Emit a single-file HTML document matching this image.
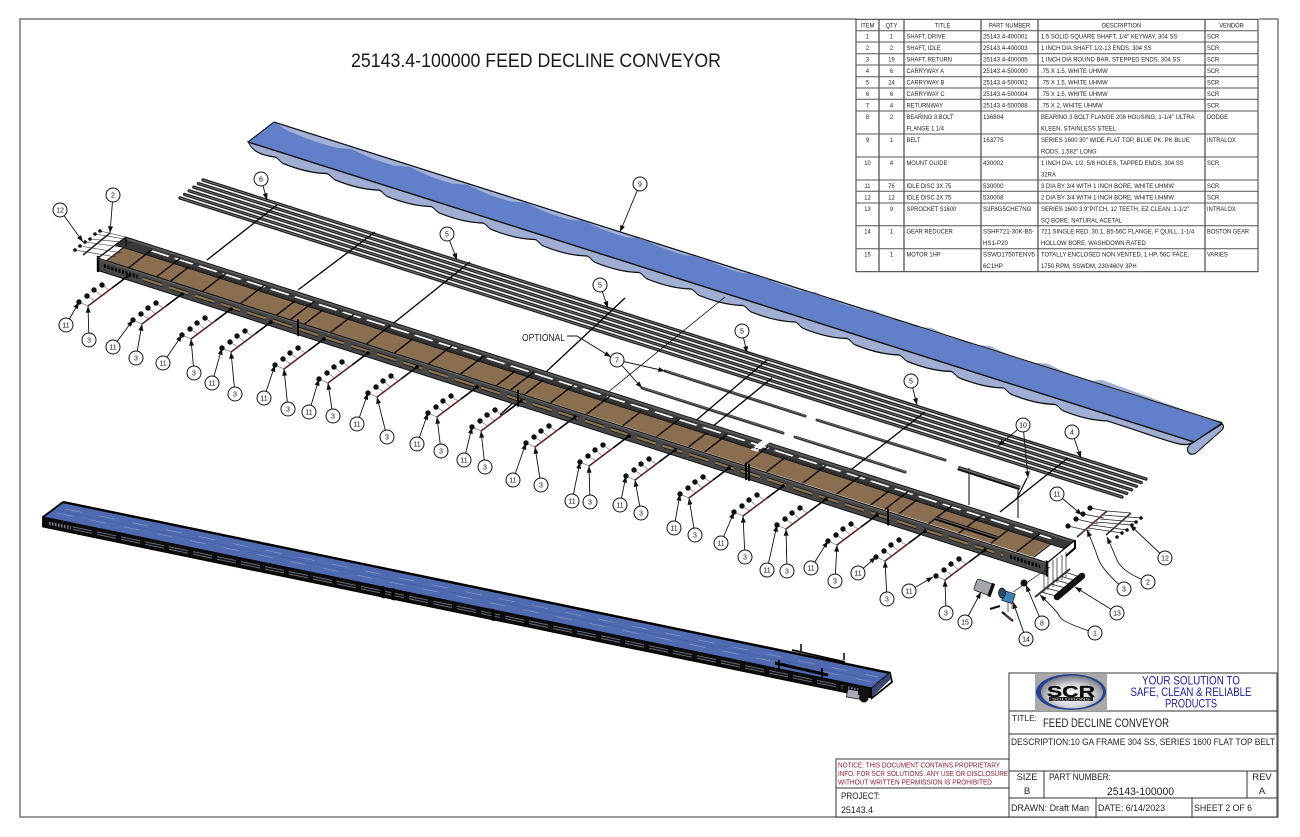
<!DOCTYPE html>
<html><head><meta charset="utf-8"><title>25143.4-100000 FEED DECLINE CONVEYOR</title>
<style>
html,body{margin:0;padding:0;background:#fff}
svg{display:block}
text{font-family:"Liberation Sans",sans-serif;fill:#222}
.t text{font-size:6.4px;fill:#1c1c1c}
.m text{text-anchor:middle}
.b text{font-size:7px;text-anchor:middle;fill:#111}
.b circle{fill:#fff;stroke:#111;stroke-width:1}
.l path{fill:none;stroke:#111;stroke-width:.9;marker-end:url(#a)}
.tb text{font-size:9.5px;fill:#222}
</style></head><body>
<svg width="1300" height="837" viewBox="0 0 1300 837" xmlns="http://www.w3.org/2000/svg">
<defs>
<marker id="a" viewBox="0 0 8 6" refX="8" refY="3" markerWidth="8" markerHeight="5" orient="auto" markerUnits="userSpaceOnUse"><path d="M0 0L8 3L0 6z" fill="#111"/></marker>
<radialGradient id="sil" cx=".5" cy=".6" r=".6"><stop offset="0" stop-color="#fff"/><stop offset=".55" stop-color="#d8d8dc"/><stop offset="1" stop-color="#70747c"/></radialGradient>
<g id="s">
<path d="M-9-4L0 0M-1-10L7-5M6-16L14-10M14-21L21-16" stroke="#333" stroke-width=".5"/>
<path d="M0 0L24-18" stroke="#5b2020" stroke-width="1.5"/>
<path d="M24-18L40-30" stroke="#000" stroke-width="1.6"/>
<circle cx="-9" cy="-4" r="2.7" fill="#111"/><circle cx="-1" cy="-10" r="2.7" fill="#111"/><circle cx="6" cy="-16" r="2.7" fill="#111"/><circle cx="14" cy="-21" r="2.7" fill="#111"/>
<circle cx="40" cy="-30" r="1.8" fill="#000"/>
</g>
</defs>

<rect x="20" y="19" width="1258" height="798" fill="none" stroke="#808080" stroke-width="1.6"/>
<rect x="856" y="10" width="403" height="14" fill="#fff"/>

<text x="351" y="67" font-size="19.5" textLength="370" lengthAdjust="spacingAndGlyphs" style="fill:#1a1a1a">25143.4-100000 FEED DECLINE CONVEYOR</text>

<!-- BELT -->
<path d="M1192 443Q1186 447 1188 452Q1191 456 1196 453L1222 430Q1225 426 1222 424Z" fill="#a0aed3" stroke="#111" stroke-width="1.1" stroke-linejoin="round"/>
<path d="M248 142L274 122L1222 423L1194 442Z" fill="#6180c9" stroke="#111" stroke-width="1.1" stroke-linejoin="round"/>
<g transform="matrix(1 .3171 0 1 248 142)">
<path transform="scale(1 1.3)" d="M0 0C5 6 12 7 27 5c4 0 5 3 9 3c16 1 30 0 43-3c4 0 5 3 9 3c16 1 30 0 43-3c4 0 5 3 9 3c16 1 30 0 43-3c4 0 5 3 9 3c16 1 30 0 43-3c4 0 5 3 9 3c16 1 30 0 43-3c4 0 5 3 9 3c16 1 30 0 43-3c4 0 5 3 9 3c16 1 30 0 43-3c4 0 5 3 9 3c16 1 30 0 43-3c4 0 5 3 9 3c16 1 30 0 43-3c4 0 5 3 9 3c16 1 30 0 43-3c4 0 5 3 9 3c16 1 30 0 43-3c4 0 5 3 9 3c16 1 30 0 43-3c4 0 5 3 9 3c16 1 30 0 43-3c4 0 5 3 9 3c16 1 30 0 43-3c4 0 5 3 9 3c16 1 30 0 43-3c4 0 5 3 9 3c16 1 30 0 43-3C925 5 935 8 946 0Z" fill="#a0aed3" stroke="#111" stroke-width="1"/>
<path d="M30-27.4c6 3 10 4 16 4c14 2 30 2 44 1c6-2 8-2 14-3.500c14 3 30 4 44 3c6-2 8-2 14-3.500c14 3 30 4 44 3c6-2 8-2 14-3.500c14 3 30 4 44 3c6-2 8-2 14-3.500c14 3 30 4 44 3c6-2 8-2 14-3.500c14 3 30 4 44 3c6-2 8-2 14-3.500c14 3 30 4 44 3c6-2 8-2 14-3.500c14 3 30 4 44 3c6-2 8-2 14-3.500c14 3 30 4 44 3c6-2 8-2 14-3.500c14 3 30 4 44 3c6-2 8-2 14-3.500c14 3 30 4 44 3c6-2 8-2 14-3.500c14 3 30 4 44 3c6-2 8-2 14-3.500c14 3 30 4 44 3c6-2 8-2 14-3.500c14 3 30 4 44 3l10 -4 L972 -27.400Z" fill="#a3b1d8"/>
<path d="M0 0H946" stroke="#111" stroke-width="1.2" fill="none"/>
<path d="M26-28.200H974" stroke="#111" stroke-width="1" fill="none"/>
</g>

<!-- RODS -->
<g fill="none" stroke-linecap="round">
<g stroke="#222" stroke-width="3.300">
<path d="M180 198L1122 497M184.600 194.400L1126.800 493.400M189.200 190.800L1131.600 489.800M193.800 187.200L1136.400 486.200M198.400 183.600L1141.200 482.600M203 180L1146 479"/>
</g>
<g stroke="#8a8a8a" stroke-width=".7">
<path d="M180 198L1122 497M184.600 194.400L1126.800 493.400M189.200 190.800L1131.600 489.800M193.800 187.200L1136.400 486.200M198.400 183.600L1141.200 482.600M203 180L1146 479"/>
</g>
</g>

<!-- RETURNWAYS -->
<g fill="none" stroke="#333" stroke-width="3" stroke-linecap="round">
<path d="M665 371L805 416M642 388L783 433M817 420L945 460M795 437L905 472"/>
</g>
<g fill="none" stroke="#999" stroke-width=".5"><path d="M665 370.600L805 415.600M642 387.600L783 432.600M817 419.600L945 459.600M795 436.600L905 471.600"/></g>

<!-- long connector lines behind frame -->
<g fill="none" stroke="#000">
<path d="M207 260L277 205M298 290L375 232M385 330L470 262M500 415L625 298M673 440L767 360M690 445L772 378M825 490L925 412M1000 512L1068 458" stroke-width="1.300"/>
<path d="M607 393L725 297" stroke-width=".8"/>
<path d="M969 468V505M1018 490V518" stroke-width="1"/>
</g>
<path d="M958 468L1020 488" stroke="#111" stroke-width="4.500"/>
<path d="M958 467.400L1020 487.400" stroke="#666" stroke-width="1.800"/>

<!-- FRAME -->
<g transform="matrix(1 .32 -1.3 1 126 237)">
<rect x="8" y="7" width="926" height="14" fill="#8b6e50"/>
<rect x="0" y="0" width="949" height="8" fill="#383838" stroke="#111" stroke-width=".6"/>
<path d="M0 1.200H949" stroke="#5a5a5a" stroke-width="1.300"/>
<path d="M30 4H930" stroke="#fff" stroke-width="1.200" stroke-dasharray="18 6"/>
<rect x="636" y="-3" width="7" height="12" fill="#fff"/>
<path d="M30 7H930" stroke="#222" stroke-width="1.200" stroke-dasharray="1.500 1.500"/>
<path d="M30 3V21M58 3V21M72 7V21M104 3V21M142 3V21M178 7V21M192 3V21M206 7V21M232 3V21M268 3V21M296 7V21M330 3V21M362 3V21M398 7V21M412 3V21M426 7V21M452 3V21M488 3V21M524 7V21M558 3V21M590 7V21M606 3V21M646 3V21M668 7V21M704 3V21M738 3V21M772 7V21M786 3V21M800 7V21M830 3V21M860 3V21M892 7V21M918 3V21" stroke="#000" stroke-width="1.500"/>
<path d="M8 8V21" stroke="#222" stroke-width="1.500"/>
<path d="M935 8V21" stroke="#222" stroke-width="1.500"/>
</g>
<g transform="matrix(1 .321 0 1 98 258)">
<rect x="0" y="0" width="949" height="12.500" fill="#474747" stroke="#0d0d0d" stroke-width="1"/>
<path d="M0 1.300H949" stroke="#666" stroke-width="1"/>
<path d="M45 6.500H905" stroke="#111" stroke-width="4" stroke-dasharray="19 7"/>
<path d="M45 6.500H905" stroke="#8a7350" stroke-width="2.400" stroke-dasharray="19 7"/>
<path d="M6 6H40M912 6H942" stroke="#000" stroke-width="3.600" stroke-dasharray="2 1.600"/>
<path d="M200 -3V14M420 -3V14M648 -3V14M651 -3V14M790 -3V14" stroke="#000" stroke-width="1.800"/>
<path d="M0 -2V14M949 -2V14" stroke="#000" stroke-width="2.400"/>
</g>
<path d="M1075 540V548L1066 556" stroke="#000" stroke-width="2" fill="none"/>
<path d="M126 237V246M98 258L126 237M1047 563L1075 540" stroke="#111" stroke-width="1.400" fill="none"/>
<!-- front overlay guide -->
<path d="M935 518L997 538" stroke="#000" stroke-width="4"/><path d="M935 517.500L997 537.500" stroke="#555" stroke-width="1.600"/>

<!-- SHAFT SETS -->
<use href="#s" x="88" y="306"/><use href="#s" x="142" y="324"/><use href="#s" x="191" y="339"/><use href="#s" x="231" y="352"/><use href="#s" x="284" y="369"/><use href="#s" x="328" y="383"/><use href="#s" x="377" y="397"/><use href="#s" x="437" y="417"/><use href="#s" x="481" y="431"/><use href="#s" x="535" y="447"/><use href="#s" x="589" y="466"/><use href="#s" x="635" y="480"/><use href="#s" x="689" y="498"/><use href="#s" x="743" y="516"/><use href="#s" x="786" y="529"/><use href="#s" x="837" y="545"/><use href="#s" x="885" y="561"/><use href="#s" x="945" y="580"/>

<!-- LEFT IDLE CLUSTER -->
<g fill="#111">
<circle cx="75" cy="250" r="1.800"/><circle cx="80" cy="246" r="1.800"/><circle cx="85" cy="242" r="1.800"/><circle cx="90" cy="239" r="1.800"/><circle cx="95" cy="234" r="1.800"/><circle cx="100" cy="231" r="1.800"/>
</g>
<g stroke="#222" stroke-width=".6" fill="none">
<path d="M75 250L116 257M80 246L122 253M85 242L128 248M90 239L133 243M95 234L125 239M100 231L126 237"/>
</g>
<path d="M83 255L110 233" stroke="#222" stroke-width="1.600"/>

<!-- RIGHT CLUSTER -->
<g stroke="#222" stroke-width=".7" fill="none">
<path d="M1068 526L1090 531M1076 519L1098 524M1083 514L1104 518M1090 508L1106 511"/>
<path d="M1088 528L1122 533M1092 525L1127 530M1096 522L1132 525M1100 519L1136 522M1103 515L1141 518M1107 511L1131 513"/>
<path d="M1044 570V593M1048 563V590M1053 560V587M1057 558V583M1062 555V580M1066 552V577"/>
<path d="M1041 592L1060 597M1046 588L1065 593M1051 584L1069 589M1056 580L1073 585M1060 576L1077 581M1065 572L1080 577"/>
<path d="M1013 592L1050 567"/>
</g>
<path d="M1077 537L1107 511" stroke="#333" stroke-width="1.800"/><path d="M1079 535L1105 513" stroke="#8b3c30" stroke-width=".7"/>
<path d="M1106 535L1131 513" stroke="#333" stroke-width="1.600"/>
<g fill="#111">
<circle cx="1068" cy="526" r="2.600"/><circle cx="1076" cy="519" r="2.600"/><circle cx="1083" cy="514" r="2.600"/><circle cx="1090" cy="508" r="2.600"/>
<circle cx="1141" cy="518" r="1.800"/><circle cx="1136" cy="522" r="1.800"/><circle cx="1132" cy="525" r="1.800"/><circle cx="1127" cy="530" r="1.800"/><circle cx="1122" cy="533" r="1.800"/><circle cx="1117" cy="537" r="1.800"/>
</g>
<path d="M1035 597L1070 569" stroke="#333" stroke-width="2"/>
<path d="M1057 597L1082 576" stroke="#111" stroke-width="6.500" stroke-linecap="round"/>
<circle cx="1024" cy="583" r="3.500" fill="#111"/>
<!-- motor / reducer -->
<g transform="rotate(20 983 587)"><rect x="975" y="581" width="17" height="12" rx="2" fill="#a4a8ac" stroke="#222" stroke-width=".8"/><rect x="990" y="580" width="3.500" height="14" fill="#111"/></g>
<rect x="1003" y="592" width="11" height="10" fill="#3f86b8" stroke="#123" stroke-width=".8" transform="rotate(18 1008 597)"/>
<ellipse cx="1002" cy="593" rx="3.500" ry="5" fill="#2a4a66" stroke="#111" stroke-width=".7"/>
<path d="M990 609L1000 606M1002 612L1013 621" stroke="#111" stroke-width="2.200"/>
<path d="M1005 614L1012 620" stroke="#7a3a28" stroke-width="1.400"/>
<path d="M1008 602V612M1012 601V609" stroke="#222" stroke-width=".7"/>

<!-- ASSEMBLED CONVEYOR -->
<path d="M63 502L890 673L872 688L43 517Z" fill="#4f6ab0"/>
<g stroke="#9aa8d0" stroke-width=".5" stroke-dasharray="16 18" fill="none">
<path d="M75 505L880 671M66 509L878 677M57 513L872 682"/>
</g>
<g stroke="#3f5a9c" stroke-width=".5" fill="none"><path d="M70 504L884 672M60 511L876 680"/></g>
<path d="M63 502L890 673" stroke="#000" stroke-width="2.400"/>
<g transform="matrix(1 .2063 0 1 43 517)">
<rect x="0" y="0" width="829" height="10" fill="#0c0c0c" stroke="#000" stroke-width="1"/>
<path d="M30 5H800" stroke="#6e7480" stroke-width="3.400" stroke-dasharray="19 5"/>
<path d="M30 5H800" stroke="#111" stroke-width="1.600" stroke-dasharray="19 5"/>
<path d="M6 5H28M805 5H825" stroke="#778" stroke-width="3.400" stroke-dasharray="1.500 1.500"/>
<path d="M340 -1V11M350 -1V11M450 -1V11" stroke="#000" stroke-width="3"/>
</g>
<path d="M63 502L43 517V527M890 673L872 688V698L892 682Z" fill="none" stroke="#000" stroke-width="1.800"/>
<path d="M872 688L890 673V680L872 697Z" fill="#38476f"/>
<path d="M792 650L845 662" stroke="#000" stroke-width="1.800"/>
<path d="M801 644V651M844 653V660" stroke="#000" stroke-width="1.500"/>
<path d="M775 663L828 675" stroke="#000" stroke-width="3"/>
<path d="M779 660V670M822 668V677" stroke="#000" stroke-width="1.700"/>
<rect x="847" y="690" width="13" height="8" fill="#aab" stroke="#111" stroke-width=".8" transform="rotate(10 853 694)"/>
<circle cx="864" cy="698" r="4.500" fill="#111"/><rect x="858" y="689" width="12" height="6" fill="#111"/>

<!-- LEADERS -->
<g class="l">
<path d="M60 210L83 242"/><path d="M113 195L110 233"/>
<path d="M261 179L267 200"/><path d="M447 234L457 260"/><path d="M600 285L608 308"/><path d="M742 331L747 353"/><path d="M911 381L917 405"/><path d="M640 184L620 232"/><path d="M1072 432L1081 458"/>
<path d="M1023 425L998 446"/><path d="M1023 425L1028 478"/>
<path d="M567 336H577L611 357"/>
<path d="M617 360L665 371"/><path d="M617 360L642 388"/>
<path d="M66 325L79 302"/><path d="M89 340L88 306"/>
<path d="M113 347L133 320"/><path d="M136 358L142 324"/>
<path d="M163 363L182 335"/><path d="M194 373L191 339"/>
<path d="M212 383L222 348"/><path d="M235 394L231 352"/>
<path d="M264 398L275 365"/><path d="M288 409L284 369"/>
<path d="M309 412L319 379"/><path d="M333 416L328 383"/>
<path d="M357 424L368 393"/><path d="M387 437L377 397"/>
<path d="M417 444L428 413"/><path d="M441 451L437 417"/>
<path d="M464 460L472 427"/><path d="M485 467L481 431"/>
<path d="M513 480L526 443"/><path d="M541 485L535 447"/>
<path d="M572 501L580 462"/><path d="M590 502L589 466"/>
<path d="M620 505L626 476"/><path d="M641 513L635 480"/>
<path d="M674 528L680 494"/><path d="M695 535L689 498"/>
<path d="M721 543L734 512"/><path d="M745 557L743 516"/>
<path d="M767 570L777 525"/><path d="M787 571L786 529"/>
<path d="M811 568L828 541"/><path d="M835 581L837 545"/>
<path d="M858 573L876 557"/><path d="M887 599L885 561"/>
<path d="M909 591L933 577"/><path d="M946 613L945 580"/>
<path d="M1057 494L1082 515"/>
<path d="M1124 589Q1102 570 1098 558T1087 530"/>
<path d="M1148 582Q1122 572 1117 560T1107 537"/>
<path d="M1165 558L1130 525"/>
<path d="M1117 613L1075 587"/>
<path d="M1095 633Q1062 622 1060 617T1040 595"/>
<path d="M1042 623L1026 585"/><path d="M1026 639L1013 602"/><path d="M965 622L981 592"/>
</g>
<path d="M1017 498L1027 478" stroke="#000" stroke-width="1.200"/>
<text x="522" y="341" font-size="10" textLength="43" lengthAdjust="spacingAndGlyphs">OPTIONAL</text>

<!-- BALLOONS -->
<g class="b">
<circle cx="60" cy="210" r="7"/><text x="60" y="212.500">12</text>
<circle cx="113" cy="195" r="7"/><text x="113" y="197.500">2</text>
<circle cx="261" cy="179" r="7"/><text x="261" y="181.500">6</text>
<circle cx="447" cy="234" r="7"/><text x="447" y="236.500">5</text>
<circle cx="600" cy="285" r="7"/><text x="600" y="287.500">5</text>
<circle cx="742" cy="331" r="7"/><text x="742" y="333.500">5</text>
<circle cx="911" cy="381" r="7"/><text x="911" y="383.500">5</text>
<circle cx="640" cy="184" r="7"/><text x="640" y="186.500">9</text>
<circle cx="1072" cy="432" r="7"/><text x="1072" y="434.500">4</text>
<circle cx="1023" cy="425" r="7"/><text x="1023" y="427.500">10</text>
<circle cx="617" cy="360" r="7"/><text x="617" y="362.500">7</text>
<circle cx="66" cy="325" r="7"/><text x="66" y="327.500">11</text><circle cx="89" cy="340" r="7"/><text x="89" y="342.500">3</text>
<circle cx="113" cy="347" r="7"/><text x="113" y="349.500">11</text><circle cx="136" cy="358" r="7"/><text x="136" y="360.500">3</text>
<circle cx="163" cy="363" r="7"/><text x="163" y="365.500">11</text><circle cx="194" cy="373" r="7"/><text x="194" y="375.500">3</text>
<circle cx="212" cy="383" r="7"/><text x="212" y="385.500">11</text><circle cx="235" cy="394" r="7"/><text x="235" y="396.500">3</text>
<circle cx="264" cy="398" r="7"/><text x="264" y="400.500">11</text><circle cx="288" cy="409" r="7"/><text x="288" y="411.500">3</text>
<circle cx="309" cy="412" r="7"/><text x="309" y="414.500">11</text><circle cx="333" cy="416" r="7"/><text x="333" y="418.500">3</text>
<circle cx="357" cy="424" r="7"/><text x="357" y="426.500">11</text><circle cx="387" cy="437" r="7"/><text x="387" y="439.500">3</text>
<circle cx="417" cy="444" r="7"/><text x="417" y="446.500">11</text><circle cx="441" cy="451" r="7"/><text x="441" y="453.500">3</text>
<circle cx="464" cy="460" r="7"/><text x="464" y="462.500">11</text><circle cx="485" cy="467" r="7"/><text x="485" y="469.500">3</text>
<circle cx="513" cy="480" r="7"/><text x="513" y="482.500">11</text><circle cx="541" cy="485" r="7"/><text x="541" y="487.500">3</text>
<circle cx="572" cy="501" r="7"/><text x="572" y="503.500">11</text><circle cx="590" cy="502" r="7"/><text x="590" y="504.500">3</text>
<circle cx="620" cy="505" r="7"/><text x="620" y="507.500">11</text><circle cx="641" cy="513" r="7"/><text x="641" y="515.500">3</text>
<circle cx="674" cy="528" r="7"/><text x="674" y="530.500">11</text><circle cx="695" cy="535" r="7"/><text x="695" y="537.500">3</text>
<circle cx="721" cy="543" r="7"/><text x="721" y="545.500">11</text><circle cx="745" cy="557" r="7"/><text x="745" y="559.500">3</text>
<circle cx="767" cy="570" r="7"/><text x="767" y="572.500">11</text><circle cx="787" cy="571" r="7"/><text x="787" y="573.500">3</text>
<circle cx="811" cy="568" r="7"/><text x="811" y="570.500">11</text><circle cx="835" cy="581" r="7"/><text x="835" y="583.500">3</text>
<circle cx="858" cy="573" r="7"/><text x="858" y="575.500">11</text><circle cx="887" cy="599" r="7"/><text x="887" y="601.500">3</text>
<circle cx="909" cy="591" r="7"/><text x="909" y="593.500">11</text><circle cx="946" cy="613" r="7"/><text x="946" y="615.500">3</text>
<circle cx="1057" cy="494" r="7"/><text x="1057" y="496.500">11</text>
<circle cx="1124" cy="589" r="7"/><text x="1124" y="591.500">3</text>
<circle cx="1148" cy="582" r="7"/><text x="1148" y="584.500">2</text>
<circle cx="1165" cy="558" r="7"/><text x="1165" y="560.500">12</text>
<circle cx="1117" cy="613" r="7"/><text x="1117" y="615.500">13</text>
<circle cx="1095" cy="633" r="7"/><text x="1095" y="635.500">1</text>
<circle cx="1042" cy="623" r="7"/><text x="1042" y="625.500">8</text>
<circle cx="1026" cy="639" r="7"/><text x="1026" y="641.500">14</text>
<circle cx="965" cy="622" r="7"/><text x="965" y="624.500">15</text>
</g>

<!-- BOM TABLE -->
<rect x="856" y="19.300" width="402" height="252.400" fill="#fff" stroke="#333" stroke-width="1"/>
<g stroke="#555" stroke-width="1" fill="none">
<path d="M856 30.700H1258M856 42H1258M856 53.700H1258M856 65H1258M856 76.700H1258M856 88H1258M856 99.300H1258M856 111H1258M856 134H1258M856 157H1258M856 180H1258M856 191.300H1258M856 203H1258M856 225.700H1258M856 248.700H1258"/>
</g>
<g stroke="#555" stroke-width="1.300" fill="none"><path d="M879 19.300V271.700M904 19.300V271.700M981 19.300V271.700M1038 19.300V271.700M1205 19.300V271.700"/></g>
<g class="t m" transform="translate(867.500 0) scale(.9 1)">
<text y="27.300">ITEM</text><text y="38.700">1</text><text y="50">2</text><text y="61.700">3</text><text y="73">4</text><text y="84.700">5</text><text y="96">6</text><text y="107.300">7</text><text y="119">8</text><text y="142">9</text><text y="165">10</text><text y="188">11</text><text y="199.300">12</text><text y="211">13</text><text y="233.700">14</text><text y="256.700">15</text>
</g>
<g class="t m" transform="translate(891.500 0) scale(.9 1)">
<text y="27.300">QTY</text><text y="38.700">1</text><text y="50">2</text><text y="61.700">19</text><text y="73">6</text><text y="84.700">24</text><text y="96">6</text><text y="107.300">4</text><text y="119">2</text><text y="142">1</text><text y="165">4</text><text y="188">76</text><text y="199.300">12</text><text y="211">9</text><text y="233.700">1</text><text y="256.700">1</text>
</g>
<g class="t m" transform="translate(942.500 0) scale(.9 1)"><text y="27.300">TITLE</text></g>
<g class="t m" transform="translate(1009.500 0) scale(.9 1)"><text y="27.300">PART NUMBER</text></g>
<g class="t m" transform="translate(1121.500 0) scale(.9 1)"><text y="27.300">DESCRIPTION</text></g>
<g class="t m" transform="translate(1231.500 0) scale(.9 1)"><text y="27.300">VENDOR</text></g>
<g class="t" transform="translate(906.500 0) scale(.9 1)">
<text y="38.700">SHAFT, DRIVE</text><text y="50">SHAFT, IDLE</text><text y="61.700">SHAFT, RETURN</text><text y="73">CARRYWAY A</text><text y="84.700">CARRYWAY B</text><text y="96">CARRYWAY C</text><text y="107.300">RETURNWAY</text><text y="119">BEARING 3 BOLT</text><text y="130.500">FLANGE 1 1/4</text><text y="142">BELT</text><text y="165">MOUNT GUIDE</text><text y="188">IDLE DISC 3X.75</text><text y="199.300">IDLE DISC 2X.75</text><text y="211">SPROCKET S1600</text><text y="233.700">GEAR REDUCER</text><text y="256.700">MOTOR 1HP</text>
</g>
<g class="t" transform="translate(983 0) scale(.96 1)">
<text y="38.700">25143.4-400001</text><text y="50">25143.4-400003</text><text y="61.700">25143.4-400005</text><text y="73">25143.4-500000</text><text y="84.700">25143.4-500002</text><text y="96">25143.4-500004</text><text y="107.300">25143.4-500008</text><text y="119">136804</text><text y="142">163775</text><text y="165">430002</text><text y="188">530000</text><text y="199.300">530008</text><text y="211">S3F8G5CHE7NG</text><text y="233.700">SSHF721-30K-B5-</text><text y="245.200">HS1-P20</text><text y="256.700">SSWD1750TENV5</text><text y="268.200">6C1HP</text>
</g>
<g class="t" transform="translate(1041 0) scale(.925 1)">
<text y="38.700">1.5 SOLID SQUARE SHAFT, 1/4" KEYWAY, 304 SS</text><text y="50">1 INCH DIA SHAFT 1/2-13 ENDS, 304 SS</text><text y="61.700">1 INCH DIA ROUND BAR, STEPPED ENDS, 304 SS</text><text y="73">.75 X 1.5, WHITE UHMW</text><text y="84.700">.75 X 1.5, WHITE UHMW</text><text y="96">.75 X 1.5, WHITE UHMW</text><text y="107.300">.75 X 2, WHITE UHMW</text><text y="119">BEARING 3 BOLT FLANGE 206 HOUSING, 1-1/4" ULTRA</text><text y="130.500">KLEEN, STAINLESS STEEL</text><text y="142">SERIES 1600 30" WIDE FLAT TOP, BLUE PK, PK BLUE</text><text y="153.500">RODS, 1,582" LONG</text><text y="165">1 INCH DIA, 1/2, 5/8 HOLES, TAPPED ENDS, 304 SS</text><text y="176.500">32RA</text><text y="188">3 DIA BY 3/4 WITH 1 INCH BORE, WHITE UHMW</text><text y="199.300">2 DIA BY 3/4 WITH 1 INCH BORE, WHITE UHMW</text><text y="211">SERIES 1600 3.9"PITCH, 12 TEETH, EZ CLEAN, 1-1/2"</text><text y="222.500">SQ BORE, NATURAL ACETAL</text><text y="233.700">721 SINGLE RED. 30:1, B5-56C FLANGE, F QUILL, 1-1/4</text><text y="245.200">HOLLOW BORE, WASHDOWN RATED</text><text y="256.700">TOTALLY ENCLOSED NON VENTED, 1 HP, 56C FACE,</text><text y="268.200">1750 RPM, SSWDM, 230/460V 3PH</text>
</g>
<g class="t" transform="translate(1207 0) scale(.9 1)">
<text y="38.700">SCR</text><text y="50">SCR</text><text y="61.700">SCR</text><text y="73">SCR</text><text y="84.700">SCR</text><text y="96">SCR</text><text y="107.300">SCR</text><text y="119">DODGE</text><text y="142">INTRALOX</text><text y="165">SCR</text><text y="188">SCR</text><text y="199.300">SCR</text><text y="211">INTRALOX</text><text y="233.700">BOSTON GEAR</text><text y="256.700">VARIES</text>
</g>

<!-- TITLE BLOCK -->
<rect x="1009" y="673" width="268" height="144" fill="#fff"/>
<rect x="836" y="759" width="173" height="58" fill="#fff"/>
<g fill="none" stroke="#333" stroke-width="1">
<rect x="1009" y="673" width="268" height="144"/>
<rect x="836" y="759" width="173" height="58"/>
<path d="M836 788H1009M1009 711H1277M1009 734H1277M1009 771H1277M1009 798H1277M1044 771V798M1247 771V798M1096 798V817M1192 798V817"/>
</g>
<rect x="1035" y="674" width="72" height="37" fill="#a9a9a9"/>
<ellipse cx="1071" cy="692" rx="35" ry="18" fill="#27408f"/>
<ellipse cx="1072" cy="692" rx="31" ry="16.500" fill="url(#sil)"/>
<text x="1047" y="697" font-size="16" font-weight="bold" textLength="48" lengthAdjust="spacingAndGlyphs" style="fill:#0c0c0c;stroke:#0c0c0c;stroke-width:.3">SCR</text>
<rect x="1049" y="697" width="44" height="4" fill="#222"/>
<text x="1071" y="700.300" font-size="4" text-anchor="middle" textLength="38" lengthAdjust="spacingAndGlyphs" style="fill:#ddd">SOLUTIONS</text>
<g style="fill:#1a1a9c" font-size="11.500" text-anchor="middle">
<text x="1191" y="684.500" textLength="98" lengthAdjust="spacingAndGlyphs" style="fill:#1a1a9c">YOUR SOLUTION TO</text>
<text x="1191" y="696" textLength="121" lengthAdjust="spacingAndGlyphs" style="fill:#1a1a9c">SAFE, CLEAN &amp; RELIABLE</text>
<text x="1191" y="707.500" textLength="52" lengthAdjust="spacingAndGlyphs" style="fill:#1a1a9c">PRODUCTS</text>
</g>
<g class="tb">
<text x="1012" y="721" style="font-size:8.500px" textLength="25" lengthAdjust="spacingAndGlyphs">TITLE:</text>
<text x="1043" y="727" style="font-size:11.500px" textLength="126" lengthAdjust="spacingAndGlyphs">FEED DECLINE CONVEYOR</text>
<text x="1011" y="745" textLength="264" lengthAdjust="spacingAndGlyphs">DESCRIPTION:10 GA FRAME 304 SS, SERIES 1600 FLAT TOP BELT</text>
<text x="1027" y="780" text-anchor="middle">SIZE</text><text x="1027" y="794" text-anchor="middle">B</text>
<text x="1049" y="780" textLength="62" lengthAdjust="spacingAndGlyphs">PART NUMBER:</text>
<text x="1107" y="795" style="font-size:11px" textLength="67" lengthAdjust="spacingAndGlyphs">25143-100000</text>
<text x="1262" y="780" text-anchor="middle">REV</text><text x="1262" y="794" text-anchor="middle">A</text>
<text x="1011" y="811" textLength="78" lengthAdjust="spacingAndGlyphs">DRAWN:  Draft Man</text>
<text x="1098" y="811" textLength="67" lengthAdjust="spacingAndGlyphs">DATE: 6/14/2023</text>
<text x="1194" y="811" textLength="58" lengthAdjust="spacingAndGlyphs">SHEET 2  OF 6</text>
<text x="841" y="799" textLength="39" lengthAdjust="spacingAndGlyphs">PROJECT:</text>
<text x="841" y="813" textLength="32" lengthAdjust="spacingAndGlyphs">25143.4</text>
</g>
<g style="font-size:7px">
<text x="838" y="767.500" font-size="7" textLength="162" lengthAdjust="spacingAndGlyphs" style="fill:#8c1c2c">NOTICE: THIS DOCUMENT CONTAINS PROPRIETARY</text>
<text x="838" y="776" font-size="7" textLength="170" lengthAdjust="spacingAndGlyphs" style="fill:#8c1c2c">INFO. FOR SCR SOLUTIONS. ANY USE OR DISCLOSURE</text>
<text x="838" y="784.500" font-size="7" textLength="154" lengthAdjust="spacingAndGlyphs" style="fill:#8c1c2c">WITHOUT WRITTEN PERMISSION IS PROHIBITED</text>
</g>
</svg>
</body></html>
